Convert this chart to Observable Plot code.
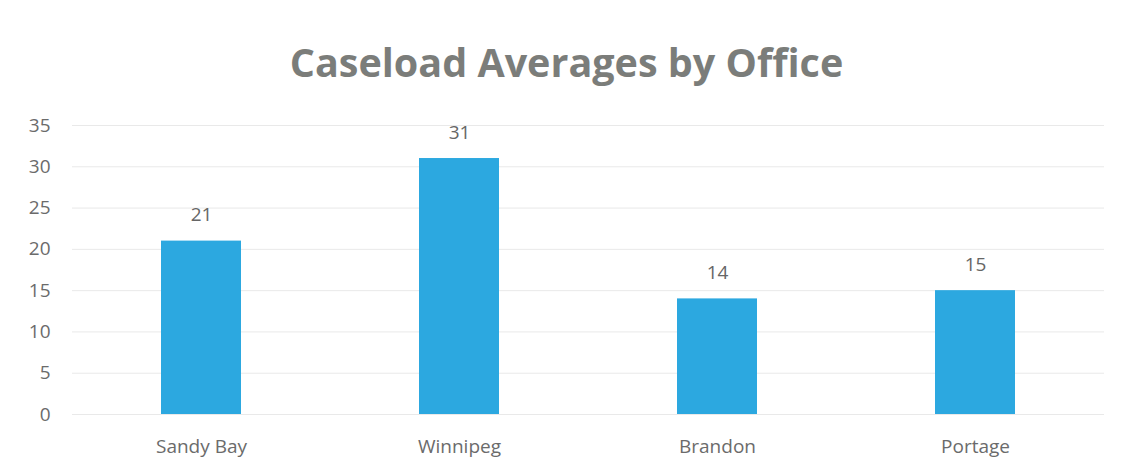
<!DOCTYPE html>
<html><head><meta charset="utf-8">
<script src="https://cdn.jsdelivr.net/npm/d3@7"></script>
<script src="https://cdn.jsdelivr.net/npm/@observablehq/plot@0.6"></script>
<style>
body{margin:0;background:#fff;}
#title{height:100px;box-sizing:border-box;padding-top:35px;text-align:center;font:bold 39.5px "Open Sans",sans-serif;color:#7b7d7a;padding-left:10px;white-space:nowrap;}
</style></head><body>
<div id="title">Caseload Averages by Office</div>
<div id="chart"></div>
<script>
const offices = ["Sandy Bay","Winnipeg","Brandon","Portage"];
const averages = [21,31,14,15];
const yTicks = [0,5,10,15,20,25,30,35];
const data = offices.map((o,i)=>({office:o,value:averages[i]}));
const chart = Plot.plot({
  width:1123, height:372,
  marginTop:25, marginBottom:58, marginLeft:72, marginRight:19,
  style:{fontFamily:"'Open Sans', sans-serif", fontSize:"19px", color:"#6b6b6b", background:"#fff"},
  x:{domain:offices, paddingInner:0.69, paddingOuter:0.345, label:null},
  y:{domain:[0,35], ticks:yTicks, label:null},
  marks:[
    Plot.gridY(yTicks,{stroke:"#e9e9e9", strokeOpacity:1}),
    Plot.barY(data,{x:"office", y:"value", fill:"#2ca8e0"}),
    Plot.text(data,{x:"office", y:"value", text:d=>String(d.value), dy:-26, fontSize:19, fill:"#666"}),
    Plot.axisY({ticks:yTicks, tickSize:0, tickPadding:22, fontSize:19}),
    Plot.axisX({tickSize:0, tickPadding:25, fontSize:19})
  ]
});
document.getElementById("chart").appendChild(chart);
</script></body></html>
